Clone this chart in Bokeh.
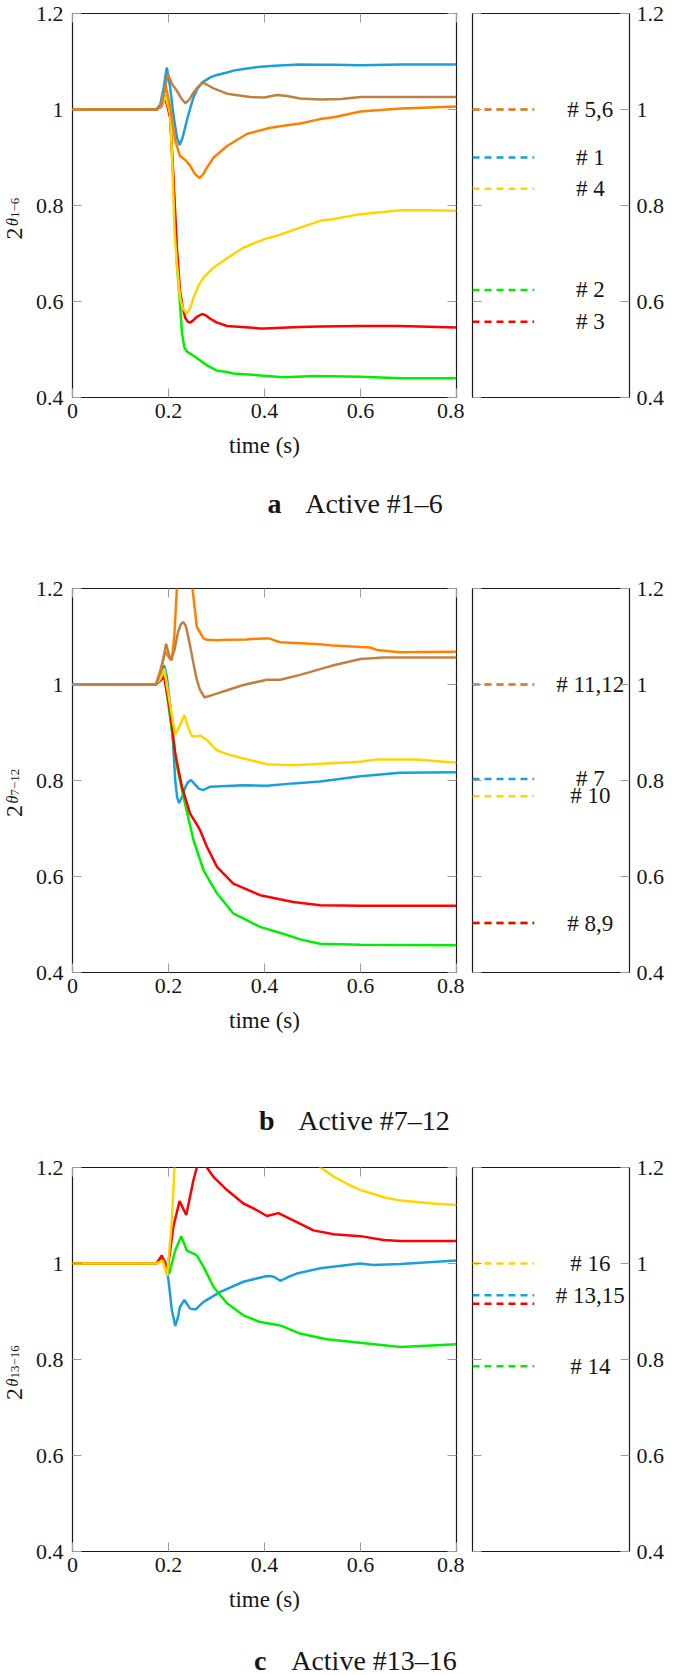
from bokeh.plotting import figure
from bokeh.layouts import column, row
from bokeh.models import FixedTicker, NumeralTickFormatter, LinearAxis, Range1d
from bokeh.core.properties import value
from bokeh.embed import file_html
from bokeh.resources import INLINE

# ---------------- data ----------------
X_TICKS = [0, 0.2, 0.4, 0.6, 0.8]
Y_TICKS = [0.4, 0.6, 0.8, 1.0, 1.2]

# Panel a  (Active #1-6)
S1_T = [0, 0.175, 0.183, 0.19, 0.1965, 0.2035, 0.21, 0.2175, 0.223, 0.229, 0.238, 0.245, 0.252, 0.26, 0.27, 0.287, 0.301, 0.322, 0.335, 0.36, 0.391, 0.42, 0.474, 0.516, 0.544, 0.6, 0.683, 0.8]
S1_V = [1.0, 1.0, 1.011, 1.046, 1.0875, 1.046, 0.99, 0.942, 0.926, 0.94, 0.976, 1.002, 1.025, 1.043, 1.056, 1.067, 1.072, 1.077, 1.081, 1.085, 1.089, 1.091, 1.094, 1.093, 1.093, 1.092, 1.094, 1.094]
S2_T = [0, 0.175, 0.185, 0.193, 0.2035, 0.21, 0.2175, 0.224, 0.228, 0.233, 0.238, 0.252, 0.262, 0.28, 0.301, 0.322, 0.335, 0.391, 0.426, 0.44, 0.509, 0.6, 0.683, 0.8]
S2_V = [1.0, 1.0, 1.008, 1.03, 0.99, 0.851, 0.678, 0.594, 0.535, 0.505, 0.496, 0.487, 0.48, 0.467, 0.456, 0.453, 0.45, 0.446, 0.443, 0.442, 0.445, 0.443, 0.44, 0.44]
S3_T = [0, 0.175, 0.185, 0.193, 0.2035, 0.21, 0.2175, 0.224, 0.23, 0.235, 0.24, 0.245, 0.252, 0.259, 0.27, 0.278, 0.287, 0.301, 0.322, 0.391, 0.4, 0.474, 0.516, 0.6, 0.683, 0.8]
S3_V = [1.0, 1.0, 1.006, 1.025, 0.983, 0.865, 0.712, 0.622, 0.585, 0.566, 0.558, 0.556, 0.561, 0.568, 0.574, 0.571, 0.564, 0.556, 0.549, 0.544, 0.544, 0.547, 0.548, 0.549, 0.549, 0.546]
S4_T = [0, 0.175, 0.185, 0.194, 0.2035, 0.208, 0.2125, 0.2175, 0.224, 0.23, 0.238, 0.245, 0.252, 0.262, 0.273, 0.294, 0.322, 0.356, 0.4, 0.426, 0.474, 0.516, 0.544, 0.6, 0.683, 0.74, 0.8]
S4_V = [1.0, 1.0, 1.008, 1.028, 0.99, 0.886, 0.747, 0.678, 0.608, 0.585, 0.575, 0.585, 0.608, 0.632, 0.65, 0.671, 0.69, 0.712, 0.73, 0.737, 0.754, 0.768, 0.772, 0.782, 0.79, 0.79, 0.789]
S5_T = [0, 0.175, 0.185, 0.1945, 0.2035, 0.214, 0.224, 0.235, 0.245, 0.255, 0.2646, 0.272, 0.28, 0.294, 0.322, 0.363, 0.412, 0.44, 0.474, 0.516, 0.544, 0.6, 0.683, 0.8]
S5_V = [1.0, 1.0, 1.012, 1.049, 1.004, 0.935, 0.903, 0.895, 0.883, 0.866, 0.857, 0.865, 0.879, 0.9, 0.924, 0.949, 0.962, 0.966, 0.971, 0.98, 0.984, 0.996, 1.002, 1.006]
S6_T = [0, 0.175, 0.185, 0.192, 0.1985, 0.207, 0.2175, 0.226, 0.235, 0.243, 0.252, 0.262, 0.272, 0.283, 0.294, 0.322, 0.37, 0.4, 0.426, 0.447, 0.474, 0.516, 0.56, 0.6, 0.7, 0.8]
S6_V = [1.0, 1.0, 1.01, 1.04, 1.074, 1.053, 1.039, 1.024, 1.013, 1.02, 1.035, 1.048, 1.056, 1.05, 1.044, 1.033, 1.026, 1.025, 1.03, 1.028, 1.023, 1.021, 1.022, 1.026, 1.026, 1.026]

# Panel b  (Active #7-12)
S7_T = [0, 0.174, 0.183, 0.191, 0.1966, 0.204, 0.21, 0.214, 0.218, 0.222, 0.228, 0.235, 0.241, 0.247, 0.255, 0.263, 0.272, 0.287, 0.356, 0.405, 0.46, 0.516, 0.6, 0.683, 0.8]
S7_V = [1.0, 1.0, 1.015, 1.04, 1.016, 0.953, 0.87, 0.801, 0.765, 0.753, 0.765, 0.786, 0.797, 0.801, 0.792, 0.783, 0.78, 0.787, 0.79, 0.789, 0.794, 0.798, 0.809, 0.816, 0.817]
S8_T = [0, 0.174, 0.183, 0.191, 0.204, 0.214, 0.228, 0.245, 0.258, 0.266, 0.28, 0.301, 0.335, 0.391, 0.46, 0.516, 0.6, 0.8]
S8_V = [1.0, 1.0, 1.008, 1.016, 0.94, 0.856, 0.787, 0.731, 0.71, 0.696, 0.662, 0.62, 0.585, 0.561, 0.547, 0.54, 0.539, 0.539]
S9_T = [0, 0.174, 0.183, 0.191, 0.204, 0.2175, 0.231, 0.252, 0.273, 0.301, 0.335, 0.391, 0.447, 0.474, 0.516, 0.6, 0.8]
S9_V = [1.0, 1.0, 1.01, 1.025, 0.926, 0.83, 0.767, 0.676, 0.613, 0.565, 0.523, 0.495, 0.478, 0.469, 0.46, 0.458, 0.457]
S10_T = [0, 0.174, 0.183, 0.191, 0.204, 0.214, 0.224, 0.233, 0.241, 0.249, 0.258, 0.266, 0.28, 0.301, 0.322, 0.356, 0.405, 0.46, 0.516, 0.6, 0.634, 0.717, 0.8]
S10_V = [1.0, 1.0, 1.012, 1.033, 0.953, 0.896, 0.915, 0.936, 0.91, 0.892, 0.892, 0.894, 0.884, 0.863, 0.855, 0.846, 0.834, 0.832, 0.835, 0.839, 0.844, 0.844, 0.837]
S11_T = [0, 0.174, 0.183, 0.193, 0.202, 0.207, 0.212, 0.2175, 0.225, 0.233, 0.242, 0.25, 0.259, 0.266, 0.273, 0.28, 0.301, 0.322, 0.36, 0.398, 0.41, 0.426, 0.433, 0.474, 0.516, 0.544, 0.6, 0.62, 0.634, 0.683, 0.8]
S11_V = [1.0, 1.0, 1.03, 1.068, 1.055, 1.051, 1.1, 1.2, 1.34, 1.38, 1.32, 1.2, 1.12, 1.108, 1.096, 1.093, 1.092, 1.093, 1.094, 1.096, 1.096, 1.09, 1.088, 1.086, 1.084, 1.081, 1.078, 1.077, 1.072, 1.067, 1.068]
S12_T = [0, 0.174, 0.185, 0.195, 0.204, 0.212, 0.22, 0.226, 0.231, 0.236, 0.24, 0.246, 0.252, 0.259, 0.266, 0.275, 0.294, 0.322, 0.356, 0.405, 0.433, 0.474, 0.516, 0.544, 0.6, 0.648, 0.8]
S12_V = [1.0, 1.0, 1.03, 1.085, 1.051, 1.07, 1.11, 1.126, 1.13, 1.122, 1.105, 1.075, 1.044, 1.01, 0.988, 0.973, 0.979, 0.988, 0.999, 1.01, 1.01, 1.02, 1.032, 1.04, 1.053, 1.056, 1.056]

# Panel c  (Active #13-16)
S13_T = [0, 0.175, 0.186, 0.193, 0.2, 0.207, 0.214, 0.219, 0.224, 0.233, 0.245, 0.256, 0.273, 0.308, 0.356, 0.405, 0.418, 0.433, 0.45, 0.467, 0.516, 0.599, 0.627, 0.683, 0.8]
S13_V = [1.0, 1.0, 1.013, 1.005, 0.965, 0.903, 0.87, 0.885, 0.91, 0.924, 0.906, 0.904, 0.92, 0.941, 0.962, 0.974, 0.973, 0.964, 0.972, 0.979, 0.99, 1.0, 0.997, 0.999, 1.006]
S14_T = [0, 0.175, 0.186, 0.2015, 0.214, 0.2265, 0.238, 0.249, 0.259, 0.273, 0.294, 0.322, 0.356, 0.391, 0.422, 0.436, 0.474, 0.53, 0.599, 0.683, 0.8]
S14_V = [1.0, 1.0, 1.011, 0.979, 1.027, 1.057, 1.027, 1.022, 1.017, 0.993, 0.951, 0.917, 0.892, 0.878, 0.873, 0.87, 0.854, 0.842, 0.835, 0.826, 0.832]
S15_T = [0, 0.175, 0.186, 0.198, 0.21, 0.223, 0.237, 0.252, 0.259, 0.27, 0.28, 0.294, 0.322, 0.356, 0.377, 0.405, 0.429, 0.46, 0.502, 0.544, 0.6, 0.648, 0.683, 0.8]
S15_V = [1.0, 1.0, 1.017, 0.986, 1.076, 1.13, 1.101, 1.174, 1.2, 1.215, 1.2, 1.18, 1.153, 1.125, 1.115, 1.099, 1.105, 1.09, 1.069, 1.061, 1.057, 1.049, 1.047, 1.047]
S16_T = [0, 0.175, 0.188, 0.197, 0.207, 0.2125, 0.22, 0.25, 0.3, 0.35, 0.4, 0.45, 0.49, 0.517, 0.544, 0.578, 0.6, 0.648, 0.683, 0.752, 0.8]
S16_V = [1.0, 1.0, 1.006, 0.974, 1.09, 1.2, 1.35, 1.6, 1.65, 1.55, 1.42, 1.3, 1.23, 1.2, 1.181, 1.163, 1.153, 1.138, 1.131, 1.125, 1.122]

# legend entries (series id, y level) and texts
LEG_A_IDS = [5, 6, 1, 4, 2, 3]
LEG_A_Y = [1.0, 1.0, 0.9, 0.835, 0.624, 0.558]
LEG_A_TEXT = ["# 5,6", "# 1", "# 4", "# 2", "# 3"]
LEG_A_TEXT_Y = [1.0, 0.9, 0.835, 0.624, 0.558]

LEG_B_IDS = [11, 12, 7, 10, 9, 8]
LEG_B_Y = [1.0, 1.0, 0.803, 0.767, 0.503, 0.503]
LEG_B_TEXT = ["# 11,12", "# 7", "# 10", "# 8,9"]
LEG_B_TEXT_Y = [1.0, 0.805, 0.769, 0.503]

LEG_C_IDS = [16, 13, 15, 14]
LEG_C_Y = [1.0, 0.934, 0.916, 0.786]
LEG_C_TEXT = ["# 16", "# 13,15", "# 14"]
LEG_C_TEXT_Y = [1.0, 0.934, 0.786]

YLABEL_SUBS = ["1\u22126", "7\u221212", "13\u221216"]
CAPTION_LETTERS = ["a", "b", "c"]
CAPTION_TEXTS = ["Active #1\u20136", "Active #7\u201312", "Active #13\u201316"]

# ---------------- styling ----------------
FONT = "Liberation Serif"
TXT = "#161616"
COLORS = {"blue": "#1aa0d9", "green": "#00ee00", "red": "#ff0000",
          "yellow": "#ffd500", "orange": "#ff8000", "brown": "#bf8040"}
SERIES_COLOR = {1: "blue", 2: "green", 3: "red", 4: "yellow", 5: "orange", 6: "brown",
                7: "blue", 8: "red", 9: "green", 10: "yellow", 11: "orange", 12: "brown",
                13: "blue", 14: "green", 15: "red", 16: "yellow"}
SERIES = {1: (S1_T, S1_V), 2: (S2_T, S2_V), 3: (S3_T, S3_V), 4: (S4_T, S4_V),
          5: (S5_T, S5_V), 6: (S6_T, S6_V), 7: (S7_T, S7_V), 8: (S8_T, S8_V),
          9: (S9_T, S9_V), 10: (S10_T, S10_V), 11: (S11_T, S11_V), 12: (S12_T, S12_V),
          13: (S13_T, S13_V), 14: (S14_T, S14_V), 15: (S15_T, S15_V), 16: (S16_T, S16_V)}

# cap_mid: vertical centre of the caption measured from the top of its strip
PANELS = [
    dict(order=[1, 2, 3, 4, 5, 6], leg_ids=LEG_A_IDS, leg_y=LEG_A_Y, leg_text=LEG_A_TEXT,
         leg_text_y=LEG_A_TEXT_Y, ylab=207.0, cap_h=98, cap_mid=26.0),
    dict(order=[7, 9, 8, 10, 11, 12], leg_ids=LEG_B_IDS, leg_y=LEG_B_Y, leg_text=LEG_B_TEXT,
         leg_text_y=LEG_B_TEXT_Y, ylab=209.5, cap_h=102, cap_mid=68.0),
    dict(order=[13, 14, 15, 16], leg_ids=LEG_C_IDS, leg_y=LEG_C_Y, leg_text=LEG_C_TEXT,
         leg_text_y=LEG_C_TEXT_Y, ylab=213.5, cap_h=44, cap_mid=28.5),
]

FRAME = 384
TOP = 13
BOTTOM = 80
ROW_H = TOP + FRAME + BOTTOM   # 477
YL_W = 30
LEFT = 42                       # frame starts at x = 72
PAGE_W = 685


def style_axis(ax, ticks, labels=True, standoff=8):
    ax.ticker = FixedTicker(ticks=ticks)
    ax.formatter = NumeralTickFormatter(format="0.[0]")
    ax.axis_line_color = None
    ax.major_tick_in = 9
    ax.major_tick_out = 0
    ax.major_tick_line_color = "#9c9c9c"
    ax.major_tick_line_width = 1
    ax.minor_tick_line_color = None
    ax.major_label_text_font = FONT
    if labels:
        ax.major_label_text_color = TXT
        ax.major_label_text_font_size = "22px"
        ax.major_label_standoff = standoff
    else:
        ax.major_label_text_color = None
        ax.major_label_text_font_size = "1px"
        ax.major_label_standoff = 0


def bare(width, height, xr, yr):
    f = figure(frame_width=width, frame_height=height, x_range=xr, y_range=yr,
               min_border=0, output_backend="svg", toolbar_location=None,
               x_axis_location=None, y_axis_location=None)
    f.grid.grid_line_color = None
    f.outline_line_color = None
    return f


blocks = []
for i, spec in enumerate(PANELS):
    # --- rotated y-axis label  2^{theta_sub} ---
    yl = bare(YL_W, ROW_H, Range1d(0, YL_W), Range1d(0, ROW_H))
    two = TOP + spec["ylab"]
    yl.text(x=[13.8], y=[ROW_H - two], text=["2"], angle=1.5708,
            text_font=value(FONT), text_font_size="24px", text_color=TXT,
            text_align="center", text_baseline="middle")
    yl.text(x=[11.8], y=[ROW_H - (two - 11.5)], text=["\u03b8"], angle=1.5708,
            text_font=value(FONT), text_font_style="italic", text_font_size="16px",
            text_color=TXT, text_align="center", text_baseline="middle")
    yl.text(x=[14.8], y=[ROW_H - (two - 15.5)], text=[YLABEL_SUBS[i]], angle=1.5708,
            text_font=value(FONT), text_font_size="13px", text_color=TXT,
            text_align="left", text_baseline="middle")

    # --- main plot ---
    p = figure(frame_width=FRAME, frame_height=FRAME,
               x_range=Range1d(0, 0.8), y_range=Range1d(0.4, 1.2),
               min_border_left=LEFT, min_border_right=8, min_border_top=TOP,
               min_border_bottom=BOTTOM,
               output_backend="svg", toolbar_location=None,
               x_axis_location="below", y_axis_location="left")
    p.grid.grid_line_color = None
    p.outline_line_color = "#1a1a1a"
    p.outline_line_width = 1.2
    p.add_layout(LinearAxis(), "above")
    p.add_layout(LinearAxis(), "right")
    style_axis(p.below[0], X_TICKS, True, 6)
    style_axis(p.above[0], X_TICKS, False)
    style_axis(p.left[0], Y_TICKS, True, 9)
    style_axis(p.right[0], Y_TICKS, False)
    xa = p.below[0]
    xa.axis_label = "time (s)"
    xa.axis_label_text_font = FONT
    xa.axis_label_text_font_style = "normal"
    xa.axis_label_text_font_size = "23px"
    xa.axis_label_text_color = TXT
    xa.axis_label_standoff = 12

    for sid in spec["order"]:
        t, v = SERIES[sid]
        p.line(t, v, line_color=COLORS[SERIES_COLOR[sid]], line_width=2.5)

    # --- legend panel ---
    q = figure(frame_width=157, frame_height=FRAME,
               x_range=Range1d(0, 1), y_range=Range1d(0.4, 1.2),
               min_border_left=8, min_border_right=PAGE_W - YL_W - (LEFT + FRAME + 8) - 8 - 157,
               min_border_top=TOP, min_border_bottom=BOTTOM,
               output_backend="svg", toolbar_location=None,
               x_axis_location=None, y_axis_location="right")
    q.grid.grid_line_color = None
    q.outline_line_color = "#1a1a1a"
    q.outline_line_width = 1.2
    q.add_layout(LinearAxis(), "left")
    style_axis(q.right[0], Y_TICKS, True, 7)
    style_axis(q.left[0], Y_TICKS, False)

    for sid, yv in zip(spec["leg_ids"], spec["leg_y"]):
        alpha = 0.7 if SERIES_COLOR[sid] == "brown" else 1.0
        q.line([0, 0.393], [yv, yv], line_color=COLORS[SERIES_COLOR[sid]],
               line_width=2.5, line_dash="7 5", line_alpha=alpha)
    q.text(x=[0.75] * len(spec["leg_text"]), y=spec["leg_text_y"], text=spec["leg_text"],
           text_font=value(FONT), text_font_size="23px", text_color=TXT,
           text_align="center", text_baseline="middle")

    # --- caption strip ---
    ch = spec["cap_h"]
    cap = bare(PAGE_W, ch, Range1d(0, PAGE_W), Range1d(0, ch))
    cap_y = ch - spec["cap_mid"]
    cap.text(x=[373.5], y=[cap_y], text=[CAPTION_TEXTS[i]],
             text_font=value(FONT), text_font_size="28px", text_color=TXT,
             text_align="center", text_baseline="middle")
    letter_right = [281.0, 274.0, 266.0][i]
    cap.text(x=[letter_right], y=[cap_y], text=[CAPTION_LETTERS[i]],
             text_font=value(FONT), text_font_style="bold", text_font_size="28px",
             text_color=TXT, text_align="right", text_baseline="middle")

    blocks.append(row(yl, p, q, spacing=0))
    blocks.append(cap)

layout = column(*blocks, spacing=0)
open("out.html", "w").write(file_html(layout, INLINE))
